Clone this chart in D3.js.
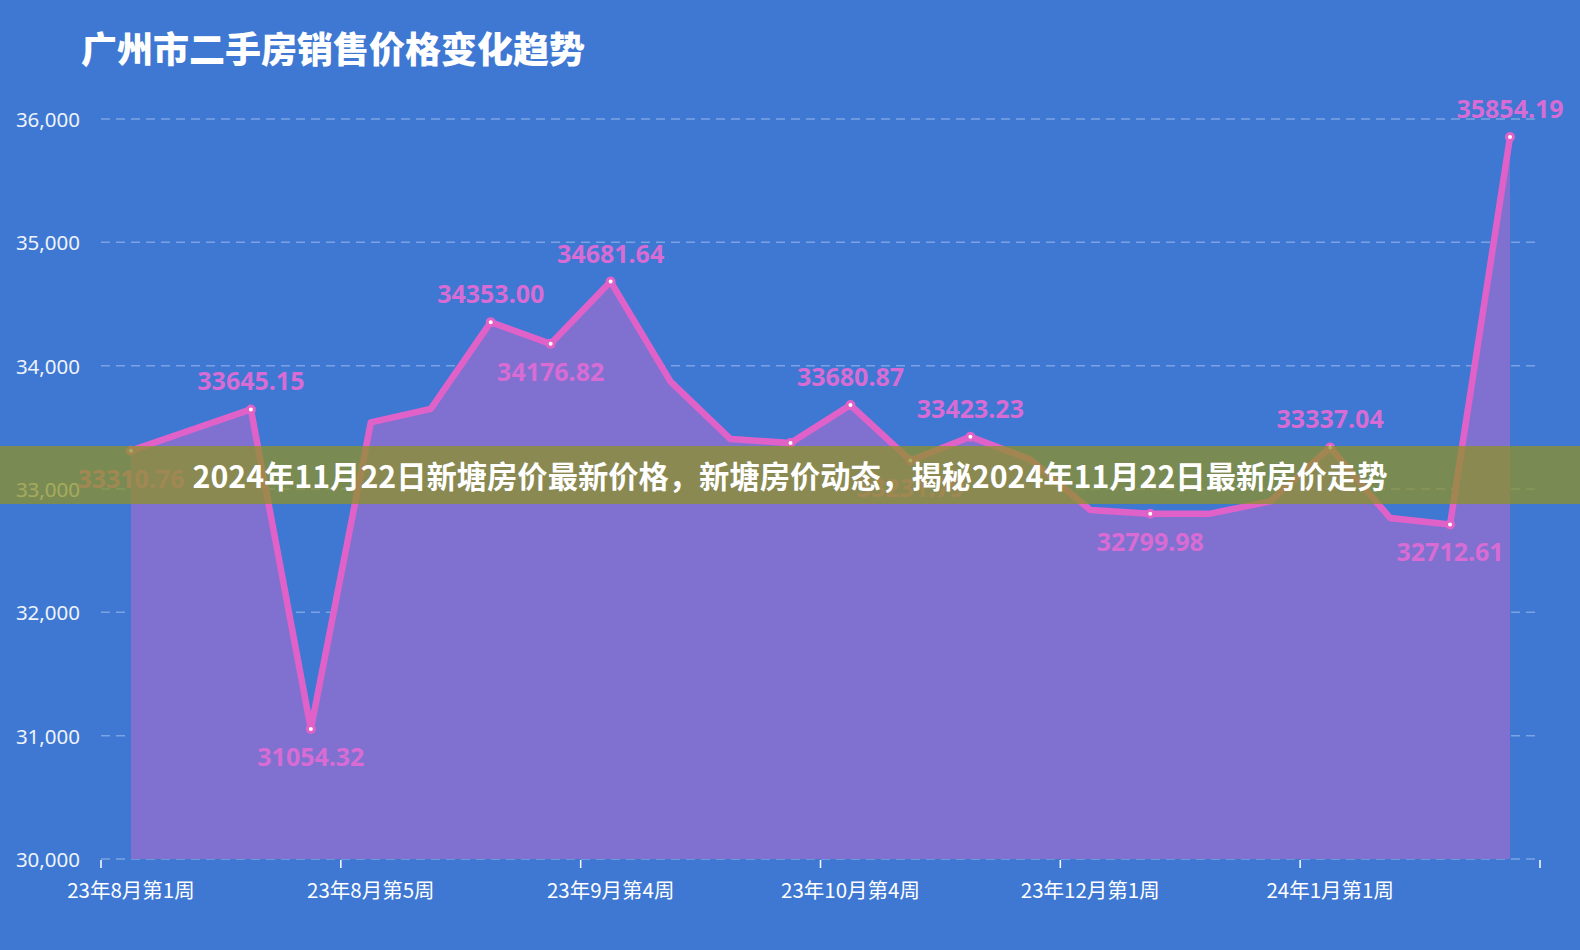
<!DOCTYPE html>
<html>
<head>
<meta charset="utf-8">
<script src="https://cdn.jsdelivr.net/npm/d3@7"></script>
<style>
  html, body { margin: 0; padding: 0; background: #3e78d3; overflow: hidden; }
  svg { display: block; }
</style>
</head>
<body>
<script>
// data

var weeks = [
  '23年8月第1周', '23年8月第2周', '23年8月第3周', '23年8月第4周',
  '23年8月第5周', '23年9月第1周', '23年9月第2周', '23年9月第3周',
  '23年9月第4周', '23年10月第1周', '23年10月第2周', '23年10月第3周',
  '23年10月第4周', '23年11月第1周', '23年11月第2周', '23年11月第3周',
  '23年12月第1周', '23年12月第2周', '23年12月第3周', '23年12月第4周',
  '24年1月第1周', '24年1月第2周', '24年1月第3周', '24年1月第4周'
]

var prices = [
  33310.76, 33478, 33645.15, 31054.32, 33540, 33650,
  34353.00, 34176.82, 34681.64, 33870, 33405, 33373,
  33680.87, 33231.79, 33423.23, 33240, 32830, 32799.98,
  32800, 32900, 33337.04, 32765, 32712.61, 35854.19
]

// where the value label sits, null = no label
var labelPos = [
  'bottom', null, 'top', 'bottom', null, null,
  'top', 'bottom', 'top', null, null, null,
  'top', 'bottom', 'top', null, null, 'bottom',
  null, null, 'top', null, 'bottom', 'top'
]

// extra points that get a marker but no label
var extraDots = [11]

var yTicks = [30000, 31000, 32000, 33000, 34000, 35000, 36000]
var xTickEvery = 4

var title = '广州市二手房销售价格变化趋势'
var banner = '2024年11月22日新塘房价最新价格，新塘房价动态，揭秘2024年11月22日最新房价走势'

// page setup

var width = 1580
var height = 950

var svg = d3.select('body').append('svg')
  .attr('width', width)
  .attr('height', height)

svg.append('rect')
  .attr('width', width)
  .attr('height', height)
  .attr('fill', '#3e78d3')

var plotLeft = 101
var plotRight = 1540
var plotTop = 119
var plotBottom = 859

var x = d3.scaleBand()
  .domain(d3.range(weeks.length))
  .range([plotLeft, plotRight])

var y = d3.scaleLinear()
  .domain([30000, 36000])
  .range([plotBottom, plotTop])

var cx = function(i) { return x(i) + x.bandwidth() / 2 }

var pink = '#e062c9'
var labelPink = '#d96cd4'

// title
svg.append('text')
  .attr('x', 81)
  .attr('y', 47)
  .attr('dominant-baseline', 'central')
  .style('font-family', '"Noto Sans CJK SC", sans-serif')
  .style('font-weight', 900)
  .style('font-size', '36px')
  .attr('fill', '#ffffff')
  .text(title)

// grid lines
svg.append('g')
  .selectAll('line')
  .data(yTicks)
  .enter()
  .append('line')
  .attr('x1', plotLeft)
  .attr('x2', plotRight)
  .attr('y1', function(d) { return y(d) })
  .attr('y2', function(d) { return y(d) })
  .attr('stroke', 'rgba(255,255,255,0.32)')
  .attr('stroke-width', 1.5)
  .attr('stroke-dasharray', '9,6')

// y axis labels
svg.append('g')
  .selectAll('text')
  .data(yTicks)
  .enter()
  .append('text')
  .attr('x', 80)
  .attr('y', function(d) { return y(d) })
  .attr('text-anchor', 'end')
  .attr('dominant-baseline', 'central')
  .style('font-family', '"Noto Sans", sans-serif')
  .style('font-size', '20.5px')
  .attr('fill', '#eef3fb')
  .text(d3.format(','))

// x axis ticks + labels
var tickIdx = d3.range(0, weeks.length + 1, xTickEvery)

svg.append('g')
  .selectAll('line')
  .data(tickIdx)
  .enter()
  .append('line')
  .attr('x1', function(d) { return plotLeft + d * x.bandwidth() })
  .attr('x2', function(d) { return plotLeft + d * x.bandwidth() })
  .attr('y1', plotBottom + 1)
  .attr('y2', plotBottom + 9)
  .attr('stroke', '#ffffff')
  .attr('stroke-width', 1.5)

svg.append('g')
  .selectAll('text')
  .data(tickIdx.filter(function(d) { return d < weeks.length }))
  .enter()
  .append('text')
  .attr('x', function(d) { return cx(d) })
  .attr('y', plotBottom + 30)
  .attr('text-anchor', 'middle')
  .attr('dominant-baseline', 'central')
  .style('font-family', '"Noto Sans CJK SC", sans-serif')
  .style('font-size', '20.5px')
  .attr('fill', '#ffffff')
  .text(function(d) { return weeks[d] })

// area + line
var area = d3.area()
  .x(function(d, i) { return cx(i) })
  .y0(plotBottom)
  .y1(function(d) { return y(d) })

var line = d3.line()
  .x(function(d, i) { return cx(i) })
  .y(function(d) { return y(d) })

svg.append('path')
  .datum(prices)
  .attr('d', area)
  .attr('fill', '#8071d0')

svg.append('path')
  .datum(prices)
  .attr('d', line)
  .attr('fill', 'none')
  .attr('stroke', pink)
  .attr('stroke-width', 6.5)
  .attr('stroke-linejoin', 'round')
  .attr('stroke-linecap', 'round')

// markers
var dotIdx = d3.range(prices.length).filter(function(i) {
  return labelPos[i] || extraDots.indexOf(i) >= 0
})

svg.append('g')
  .selectAll('circle')
  .data(dotIdx)
  .enter()
  .append('circle')
  .attr('cx', function(i) { return cx(i) })
  .attr('cy', function(i) { return y(prices[i]) })
  .attr('r', 3.5)
  .attr('fill', '#ffffff')
  .attr('stroke', pink)
  .attr('stroke-width', 3)

// value labels
var labelIdx = d3.range(prices.length).filter(function(i) { return labelPos[i] })

svg.append('g')
  .selectAll('text')
  .data(labelIdx)
  .enter()
  .append('text')
  .attr('x', function(i) { return cx(i) })
  .attr('y', function(i) {
    return y(prices[i]) + (labelPos[i] == 'top' ? -29 : 27)
  })
  .attr('text-anchor', 'middle')
  .attr('dominant-baseline', 'central')
  .style('font-family', '"Noto Sans", sans-serif')
  .style('font-weight', 700)
  .style('font-size', '25px')
  .attr('fill', labelPink)
  .text(function(i) { return prices[i].toFixed(2) })

// banner across the middle
svg.append('rect')
  .attr('x', 0)
  .attr('y', 446)
  .attr('width', width)
  .attr('height', 58)
  .attr('fill', 'rgba(142,145,40,0.75)')

svg.append('text')
  .attr('x', width / 2)
  .attr('y', 475)
  .attr('text-anchor', 'middle')
  .attr('dominant-baseline', 'central')
  .style('font-family', '"Noto Sans CJK SC", sans-serif')
  .style('font-weight', 700)
  .style('font-size', '30.3px')
  .attr('fill', '#ffffff')
  .text(banner)
</script>
</body>
</html>
